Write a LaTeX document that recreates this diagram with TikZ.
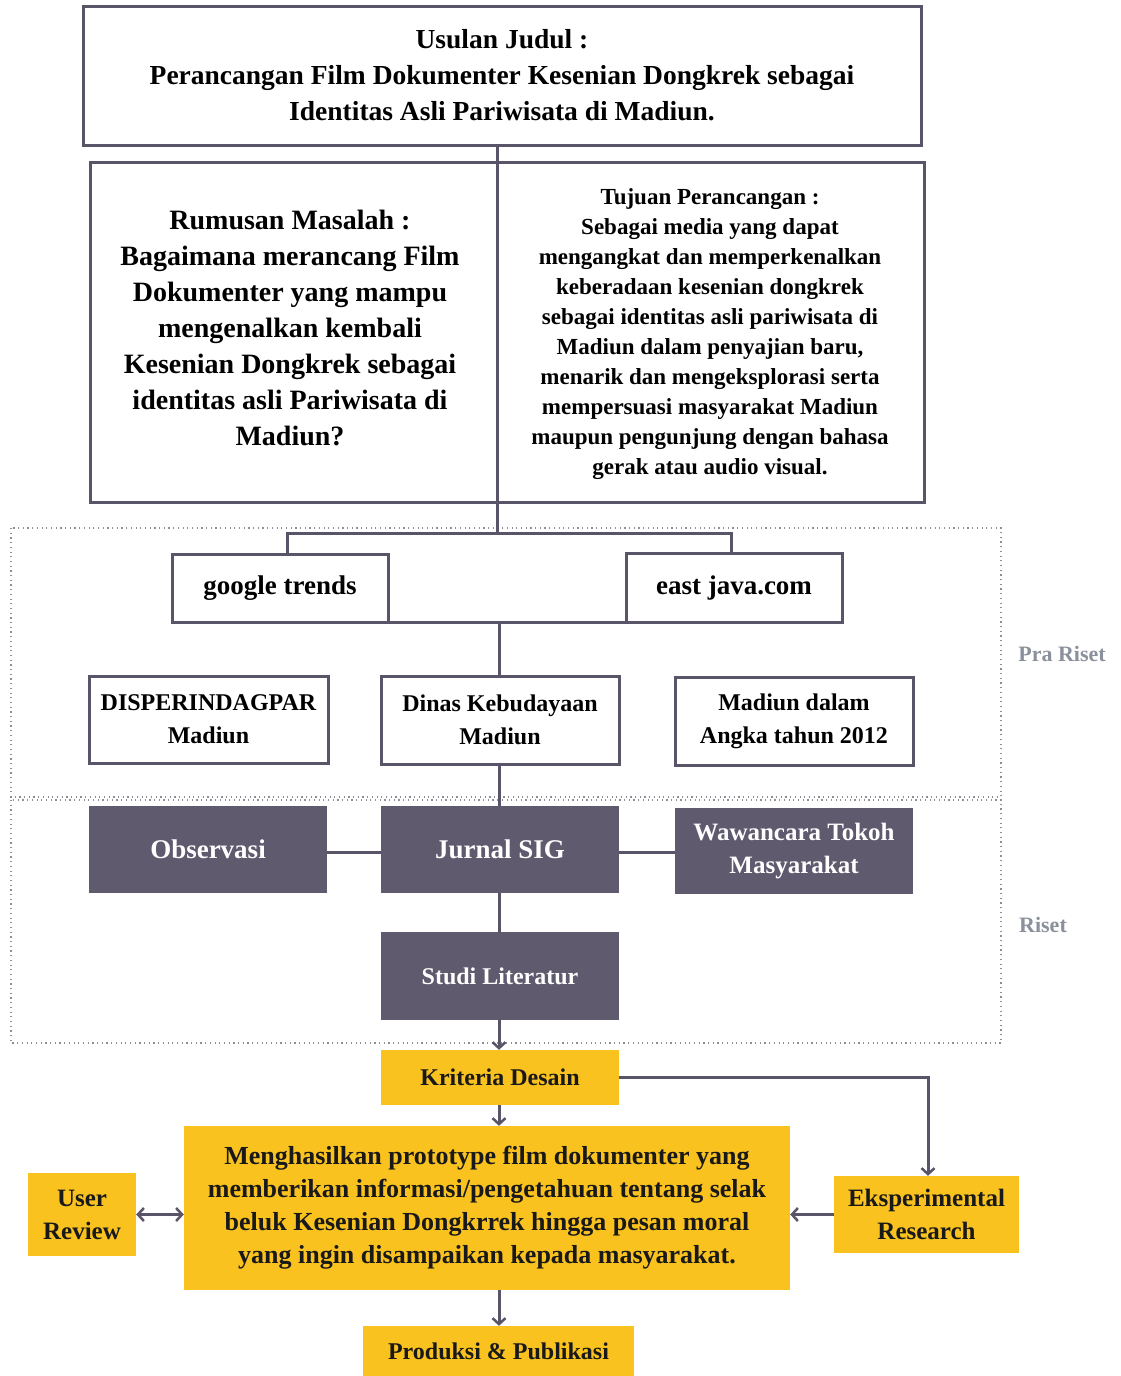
\documentclass[tikz,border=0pt]{standalone}
\usepackage{fontspec}
\setmainfont{Liberation Serif}
\usetikzlibrary{arrows.meta}
\definecolor{lnc}{HTML}{5A5468}
\definecolor{dk}{HTML}{5F5A6E}
\definecolor{yl}{HTML}{F9C21F}
\definecolor{lbl}{HTML}{8A909C}
\definecolor{dotc}{HTML}{8E8E96}
\newcommand{\fs}[2]{\fontsize{#1}{#2}\selectfont}
\begin{document}
\begin{tikzpicture}[x=1pt,y=-1pt,
  wbox/.style={draw=lnc,line width=3pt,fill=white,align=center,inner sep=0pt,font=\bfseries},
  dbox/.style={fill=dk,text=white,align=center,inner sep=0pt,font=\bfseries},
  ybox/.style={fill=yl,text=black!90,align=center,inner sep=0pt,font=\bfseries},
  conn/.style={draw=lnc,line width=3pt},
  arr/.style={conn,-{Straight Barb[length=6pt,width=13pt,line width=2.5pt]}},
  darr/.style={conn,{Straight Barb[length=6pt,width=13pt,line width=2.5pt]}-{Straight Barb[length=6pt,width=13pt,line width=2.5pt]}},
  region/.style={draw=dotc,line width=1.2pt,dash pattern=on 1.2pt off 3.5pt},
  side/.style={text=lbl,font=\bfseries\fs{22}{26}}]
\useasboundingbox (0,0) rectangle (1120,1376);
\fill[white] (0,0) rectangle (1120,1376);
% regions
\draw[region] (11,528) rectangle (1001,797);
\draw[region] (11,800) rectangle (1001,1043);
\node[side] (pra) at (1062,654) {Pra Riset};
\node[side] (ris) at (1043,925) {Riset};
% coordinates
\coordinate (br) at (497,533);
\coordinate (ga) at (287,533);
\coordinate (ea) at (731,533);
\coordinate (mj) at (499,622);
% connectors behind
\draw[conn] (497,145) -- (br);
% top boxes
\node[wbox,minimum width=838,minimum height=139,font=\bfseries\fs{27.5}{36}] (title) at (502,75.5)
 {Usulan Judul :\\Perancangan Film Dokumenter Kesenian Dongkrek sebagai\\Identitas Asli Pariwisata di Madiun.};
\node[wbox,minimum width=407,minimum height=340] (rum) at (293.5,332) {};
\node[wbox,minimum width=427,minimum height=340] (tuj) at (710.5,332) {};
\node[align=center,font=\bfseries\fs{28}{36}] (rumt) at (290,328)
 {Rumusan Masalah :\\Bagaimana merancang Film\\Dokumenter yang mampu\\mengenalkan kembali\\Kesenian Dongkrek sebagai\\identitas asli Pariwisata di\\Madiun?};
\node[align=center,font=\bfseries\fs{23}{30}] (tujt) at (710,334)
 {Tujuan Perancangan :\\Sebagai media yang dapat\\mengangkat dan memperkenalkan\\keberadaan kesenian dongkrek\\sebagai identitas asli pariwisata di\\Madiun dalam penyajian baru,\\menarik dan mengeksplorasi serta\\mempersuasi masyarakat Madiun\\maupun pengunjung dengan bahasa\\gerak atau audio visual.};
\draw[conn] (title.south -| br) -- (br);
% pra riset boxes
\node[wbox,minimum width=216,minimum height=68,font=\bfseries\fs{27}{32}] (goog) at (280,588.5) {google trends};
\node[wbox,minimum width=216,minimum height=69,font=\bfseries\fs{27}{32}] (east) at (734,587.5) {east java.com};
\draw[conn] (goog.north -| ga) -- (ga) -- (ea) -- (east.north -| ea);
\draw[conn] (goog.south east |- mj) -- (east.south west |- mj);
\node[wbox,minimum width=239,minimum height=87,font=\bfseries\fs{24}{33}] (disp) at (208.5,719.5) {DISPERINDAGPAR\\Madiun};
\node[wbox,minimum width=238,minimum height=88,font=\bfseries\fs{24}{33}] (dinas) at (500,720) {Dinas Kebudayaan\\Madiun};
\node[wbox,minimum width=238,minimum height=88,font=\bfseries\fs{24}{33}] (mad) at (794,721) {Madiun dalam\\Angka tahun 2012};
\draw[conn] (mj) -- (dinas.north -| mj);
% riset boxes
\node[dbox,minimum width=238,minimum height=87,font=\bfseries\fs{27}{33}] (obs) at (208,849.5) {Observasi};
\node[dbox,minimum width=238,minimum height=87,font=\bfseries\fs{27}{33}] (jur) at (500,849.5) {Jurnal SIG};
\node[dbox,minimum width=238,minimum height=86,font=\bfseries\fs{25}{33}] (waw) at (794,851) {Wawancara Tokoh\\Masyarakat};
\node[dbox,minimum width=238,minimum height=88,font=\bfseries\fs{24}{33}] (stu) at (500,976) {Studi Literatur};
\draw[conn] (dinas.south -| mj) -- (jur.north -| mj);
\draw[conn] (obs.east |- 0,852) -- (jur.west |- 0,852);
\draw[conn] (jur.east |- 0,852) -- (waw.west |- 0,852);
\draw[conn] (jur.south -| mj) -- (stu.north -| mj);
% yellow part
\node[ybox,minimum width=238,minimum height=55,font=\bfseries\fs{24}{33}] (kri) at (500,1077.5) {Kriteria Desain};
\node[ybox,minimum width=606,minimum height=164,font=\bfseries\fs{26}{33}] (main) at (487,1208)
 {Menghasilkan prototype film dokumenter yang\\memberikan informasi/pengetahuan tentang selak\\beluk Kesenian Dongkrrek hingga pesan moral\\yang ingin disampaikan kepada masyarakat.};
\node[ybox,minimum width=108,minimum height=83,font=\bfseries\fs{25}{33}] (user) at (82,1214.5) {User\\Review};
\node[ybox,minimum width=185,minimum height=77,font=\bfseries\fs{25}{33}] (eksp) at (926.5,1214.5) {Eksperimental\\Research};
\node[ybox,minimum width=271,minimum height=50,font=\bfseries\fs{24}{33}] (prod) at (498.5,1351) {Produksi \& Publikasi};
\draw[arr] (stu.south -| mj) -- (kri.north -| mj);
\draw[arr] (kri.south -| mj) -- (main.north -| mj);
\draw[arr] (kri.east) -| (eksp.north -| 928,0);
\draw[arr] (eksp.west) -- (main.east |- eksp.west);
\draw[darr] (user.east) -- (main.west |- user.east);
\draw[arr] (main.south -| mj) -- (prod.north -| mj);
\end{tikzpicture}
\end{document}
